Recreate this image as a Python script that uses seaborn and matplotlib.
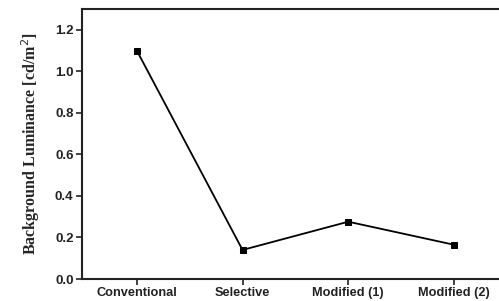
import matplotlib
matplotlib.use("Agg")
import matplotlib.pyplot as plt
import seaborn as sns
import pandas as pd

categories = ["Conventional", "Selective", "Modified (1)", "Modified (2)"]
luminance = [1.10, 0.14, 0.276, 0.165]

df = pd.DataFrame({"pos": range(len(categories)), "lum": luminance})

sns.set_style("ticks")
plt.rcParams["font.family"] = ["Liberation Sans", "DejaVu Sans"]

fig = plt.figure(figsize=(4.99, 3.01), dpi=100)
ax = fig.add_axes([0.164, 0.073, 1.02 - 0.164, 0.970 - 0.073])
sns.lineplot(data=df, x="pos", y="lum", ax=ax, color="black", lw=1.3,
             marker="s", markersize=5, markeredgecolor="black")

ax.set_xlim(-0.52, 3.52)
ax.set_ylim(0, 1.3)
ax.set_xticks(range(len(categories)))
ax.set_xticklabels(categories, fontsize=9.2, fontweight="bold")
ax.set_yticks([0.0, 0.2, 0.4, 0.6, 0.8, 1.0, 1.2])
ax.set_yticklabels(["0.0", "0.2", "0.4", "0.6", "0.8", "1.0", "1.2"],
                   fontsize=9.5, fontweight="bold")
ax.set_xlabel("")
ax.set_ylabel("Background Luminance [cd/m$^2$]", fontsize=11.5, fontweight="bold",
              family="Liberation Serif", labelpad=9)
ax.tick_params(direction="out", length=4, width=1.2, colors="#222222", pad=2)
for s in ax.spines.values():
    s.set_linewidth(1.5)
    s.set_color("#222222")

fig.savefig("out.png", dpi=100)
